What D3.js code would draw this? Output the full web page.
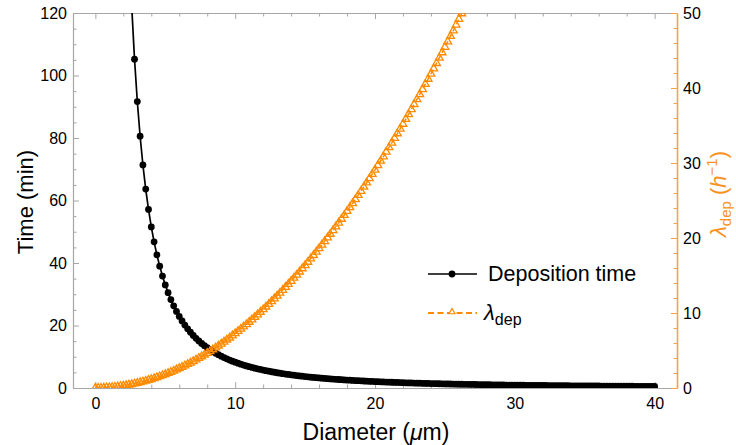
<!DOCTYPE html>
<html>
<head>
<meta charset="utf-8">
<script src="https://cdn.jsdelivr.net/npm/d3@7"></script>
<style>
  html, body { margin: 0; padding: 0; background: #fff; }
  svg { display: block; font-family: "Liberation Sans", Arial, sans-serif; }
</style>
</head>
<body>
<svg id="chart" width="736" height="445"></svg>
<script>
// Particle diameter grid (μm)
const diameter = [
  0,0.2,0.4,0.6,0.8,1,1.2,1.4,1.6,1.8,
  2,2.2,2.4,2.6,2.8,3,3.2,3.4,3.6,3.8,
  4,4.2,4.4,4.6,4.8,5,5.2,5.4,5.6,5.8,
  6,6.2,6.4,6.6,6.8,7,7.2,7.4,7.6,7.8,
  8,8.2,8.4,8.6,8.8,9,9.2,9.4,9.6,9.8,
  10,10.2,10.4,10.6,10.8,11,11.2,11.4,11.6,11.8,
  12,12.2,12.4,12.6,12.8,13,13.2,13.4,13.6,13.8,
  14,14.2,14.4,14.6,14.8,15,15.2,15.4,15.6,15.8,
  16,16.2,16.4,16.6,16.8,17,17.2,17.4,17.6,17.8,
  18,18.2,18.4,18.6,18.8,19,19.2,19.4,19.6,19.8,
  20,20.2,20.4,20.6,20.8,21,21.2,21.4,21.6,21.8,
  22,22.2,22.4,22.6,22.8,23,23.2,23.4,23.6,23.8,
  24,24.2,24.4,24.6,24.8,25,25.2,25.4,25.6,25.8,
  26,26.2,26.4,26.6,26.8,27,27.2,27.4,27.6,27.8,
  28,28.2,28.4,28.6,28.8,29,29.2,29.4,29.6,29.8,
  30,30.2,30.4,30.6,30.8,31,31.2,31.4,31.6,31.8,
  32,32.2,32.4,32.6,32.8,33,33.2,33.4,33.6,33.8,
  34,34.2,34.4,34.6,34.8,35,35.2,35.4,35.6,35.8,
  36,36.2,36.4,36.6,36.8,37,37.2,37.4,37.6,37.8,
  38,38.2,38.4,38.6,38.8,39,39.2,39.4,39.6,39.8,
  40
];

// Deposition time (min) for each diameter; the smallest sizes lie above the axis range
const depositionTime = [
  null,null,null,null,null,null,null,null,null,null,
  null,null,143.23,122.04,105.23,91.67,80.57,71.37,63.66,57.13,
  51.56,46.77,42.61,38.99,35.81,33,30.51,28.29,26.31,24.52,
  22.92,21.46,20.14,18.94,17.84,16.84,15.91,15.07,14.28,13.56,
  12.89,12.27,11.69,11.15,10.65,10.19,9.75,9.34,8.95,8.59,
  8.25,7.93,7.63,7.34,7.07,6.82,6.58,6.35,6.13,5.93,
  5.73,5.54,5.37,5.2,5.04,4.88,4.73,4.59,4.46,4.33,
  4.21,4.09,3.98,3.87,3.77,3.67,3.57,3.48,3.39,3.3,
  3.22,3.14,3.07,2.99,2.92,2.85,2.79,2.72,2.66,2.6,
  2.55,2.49,2.44,2.38,2.33,2.29,2.24,2.19,2.15,2.1,
  2.06,2.02,1.98,1.94,1.91,1.87,1.84,1.8,1.77,1.74,
  1.7,1.67,1.64,1.62,1.59,1.56,1.53,1.51,1.48,1.46,
  1.43,1.41,1.39,1.36,1.34,1.32,1.3,1.28,1.26,1.24,
  1.22,1.2,1.18,1.17,1.15,1.13,1.12,1.1,1.08,1.07,
  1.05,1.04,1.02,1.01,0.99,0.98,0.97,0.95,0.94,0.93,
  0.92,0.9,0.89,0.88,0.87,0.86,0.85,0.84,0.83,0.82,
  0.81,0.8,0.79,0.78,0.77,0.76,0.75,0.74,0.73,0.72,
  0.71,0.71,0.7,0.69,0.68,0.67,0.67,0.66,0.65,0.64,
  0.64,0.63,0.62,0.62,0.61,0.6,0.6,0.59,0.58,0.58,
  0.57,0.57,0.56,0.55,0.55,0.54,0.54,0.53,0.53,0.52,
  0.52
];

// Deposition rate λ_dep (1/h), listed from 0 μm up to where it leaves the axis range
const lambdaDep = [
  0,0,0.01,0.03,0.05,0.07,0.1,0.14,0.19,0.24,
  0.29,0.35,0.42,0.49,0.57,0.66,0.75,0.84,0.94,1.05,
  1.16,1.28,1.41,1.54,1.68,1.82,1.97,2.12,2.28,2.45,
  2.62,2.8,2.98,3.17,3.36,3.56,3.77,3.98,4.2,4.43,
  4.66,4.89,5.13,5.38,5.63,5.89,6.16,6.43,6.7,6.99,
  7.27,7.57,7.87,8.17,8.48,8.8,9.12,9.45,9.79,10.13,
  10.47,10.83,11.18,11.55,11.92,12.29,12.67,13.06,13.45,13.85,
  14.26,14.67,15.08,15.5,15.93,16.36,16.8,17.25,17.7,18.16,
  18.62,19.09,19.56,20.04,20.53,21.02,21.52,22.02,22.53,23.04,
  23.57,24.09,24.62,25.16,25.71,26.26,26.81,27.37,27.94,28.51,
  29.09,29.68,30.27,30.86,31.47,32.07,32.69,33.31,33.93,34.56,
  35.2,35.84,36.49,37.15,37.81,38.47,39.15,39.82,40.51,41.2,
  41.89,42.59,43.3,44.01,44.73,45.46,46.19,46.92,47.66,48.41,
  49.17,49.93,50.69
];

// Axis ticks
const xTicks = [0, 10, 20, 30, 40];
const xMinorTicks = [2, 4, 6, 8, 12, 14, 16, 18, 22, 24, 26, 28, 32, 34, 36, 38];
const timeTicks = [0, 20, 40, 60, 80, 100, 120];
const timeMinorTicks = [5, 10, 15, 25, 30, 35, 45, 50, 55, 65, 70, 75, 85, 90, 95, 105, 110, 115];
const lambdaTicks = [0, 10, 20, 30, 40, 50];
const lambdaMinorTicks = [2, 4, 6, 8, 12, 14, 16, 18, 22, 24, 26, 28, 32, 34, 36, 38, 42, 44, 46, 48];

const GRAY = "#a6a6a6";
const ORANGE = "#ff8a00";
const ORANGE_AXIS = "#f6a24a";
const ORANGE_TEXT = "#f7931e";

const plot = { left: 73, right: 677, top: 13, bottom: 388 };

const svg = d3.select("#chart");

const x = d3.scaleLinear().domain([-1.6, 41.6]).range([plot.left, plot.right]);
const yTime = d3.scaleLinear().domain([0, 120]).range([plot.bottom, plot.top]);
const yLambda = d3.scaleLinear().domain([0, 50]).range([plot.bottom, plot.top]);

svg.append("defs").append("clipPath").attr("id", "plot-clip")
  .append("rect")
  .attr("x", plot.left).attr("y", plot.top)
  .attr("width", plot.right - plot.left).attr("height", plot.bottom - plot.top);

function styleAxis(g, lineColor) {
  g.select(".domain").attr("stroke", lineColor).attr("stroke-width", 1.2);
  g.selectAll(".tick line").attr("stroke", lineColor).attr("stroke-width", 1);
  g.selectAll(".tick text").attr("fill", "#000").attr("font-size", 16)
    .attr("font-family", "Liberation Sans, Arial, sans-serif");
}

// Bottom axis
const gBottom = svg.append("g").attr("transform", `translate(0,${plot.bottom})`)
  .call(d3.axisBottom(x).tickValues(xTicks).tickSize(-6).tickSizeOuter(0).tickPadding(10));
styleAxis(gBottom, GRAY);
svg.append("g").attr("transform", `translate(0,${plot.bottom})`)
  .call(d3.axisBottom(x).tickValues(xMinorTicks).tickSize(-3.5).tickFormat(""))
  .call(g => { g.select(".domain").remove(); g.selectAll(".tick line").attr("stroke", GRAY); });

// Top frame
const gTop = svg.append("g").attr("transform", `translate(0,${plot.top})`)
  .call(d3.axisTop(x).tickValues(xTicks).tickSize(-6).tickSizeOuter(0).tickFormat(""));
styleAxis(gTop, GRAY);
svg.append("g").attr("transform", `translate(0,${plot.top})`)
  .call(d3.axisTop(x).tickValues(xMinorTicks).tickSize(-3.5).tickFormat(""))
  .call(g => { g.select(".domain").remove(); g.selectAll(".tick line").attr("stroke", GRAY); });

// Left axis: time
const gLeft = svg.append("g").attr("transform", `translate(${plot.left},0)`)
  .call(d3.axisLeft(yTime).tickValues(timeTicks).tickSize(-6).tickSizeOuter(0).tickPadding(6));
styleAxis(gLeft, GRAY);
svg.append("g").attr("transform", `translate(${plot.left},0)`)
  .call(d3.axisLeft(yTime).tickValues(timeMinorTicks).tickSize(-3.5).tickFormat(""))
  .call(g => { g.select(".domain").remove(); g.selectAll(".tick line").attr("stroke", GRAY); });

// Right axis: λ_dep
const gRight = svg.append("g").attr("transform", `translate(${plot.right},0)`)
  .call(d3.axisRight(yLambda).tickValues(lambdaTicks).tickSize(-6).tickSizeOuter(0).tickPadding(6));
styleAxis(gRight, ORANGE_AXIS);
gRight.select(".domain").attr("stroke-width", 1.6);
svg.append("g").attr("transform", `translate(${plot.right},0)`)
  .call(d3.axisRight(yLambda).tickValues(lambdaMinorTicks).tickSize(-3.5).tickFormat(""))
  .call(g => { g.select(".domain").remove(); g.selectAll(".tick line").attr("stroke", ORANGE_AXIS); });

// Series
const plotArea = svg.append("g").attr("clip-path", "url(#plot-clip)");

const timePoints = diameter.map((d, i) => ({ d, v: depositionTime[i] })).filter(p => p.v != null);
const lambdaPoints = lambdaDep.map((v, i) => ({ d: diameter[i], v }));

plotArea.append("path")
  .datum(timePoints)
  .attr("fill", "none").attr("stroke", "#000").attr("stroke-width", 1.7)
  .attr("d", d3.line().x(p => x(p.d)).y(p => yTime(p.v)));

plotArea.append("g").selectAll("circle")
  .data(timePoints).join("circle")
  .attr("cx", p => x(p.d)).attr("cy", p => yTime(p.v)).attr("r", 3.4)
  .attr("fill", "#000");

plotArea.append("path")
  .datum(lambdaPoints)
  .attr("fill", "none").attr("stroke", ORANGE).attr("stroke-width", 1.5)
  .attr("stroke-dasharray", "5,3")
  .attr("d", d3.line().x(p => x(p.d)).y(p => yLambda(p.v)));

const tri = d3.symbol().type(d3.symbolTriangle).size(26);
plotArea.append("g").selectAll("path")
  .data(lambdaPoints).join("path")
  .attr("transform", p => `translate(${x(p.d)},${yLambda(p.v)})`)
  .attr("d", tri)
  .attr("fill", "none").attr("stroke", ORANGE).attr("stroke-width", 1.3);

// Axis titles
svg.append("text")
  .attr("x", 376).attr("y", 440)
  .attr("text-anchor", "middle").attr("font-size", 23).attr("fill", "#000")
  .call(t => {
    t.append("tspan").text("Diameter (");
    t.append("tspan").attr("font-style", "italic").text("μ");
    t.append("tspan").text("m)");
  });

svg.append("text")
  .attr("transform", "translate(33,202) rotate(-90)")
  .attr("text-anchor", "middle").attr("font-size", 22).attr("fill", "#000")
  .text("Time (min)");

svg.append("text")
  .attr("transform", "translate(726,194) rotate(-90)")
  .attr("text-anchor", "middle").attr("font-size", 22).attr("fill", ORANGE_TEXT)
  .call(t => {
    t.append("tspan").attr("font-style", "italic").text("λ");
    t.append("tspan").attr("font-size", 15).attr("dy", 5).text("dep");
    t.append("tspan").attr("dy", -5).text(" (");
    t.append("tspan").attr("font-style", "italic").text("h");
    t.append("tspan").attr("font-size", 15).attr("dy", -9).text("−1");
    t.append("tspan").attr("dy", 9).text(")");
  });

// Legend
const legend = svg.append("g");
legend.append("line")
  .attr("x1", 428).attr("x2", 477).attr("y1", 274).attr("y2", 274)
  .attr("stroke", "#000").attr("stroke-width", 1.7);
legend.append("circle").attr("cx", 452).attr("cy", 274).attr("r", 3.4).attr("fill", "#000");
legend.append("text").attr("x", 488).attr("y", 281)
  .attr("font-size", 21.5).attr("fill", "#000").text("Deposition time");

legend.append("line")
  .attr("x1", 428).attr("x2", 477).attr("y1", 313).attr("y2", 313)
  .attr("stroke", ORANGE).attr("stroke-width", 1.8).attr("stroke-dasharray", "6,3.5");
legend.append("path")
  .attr("transform", "translate(452,312)")
  .attr("d", d3.symbol().type(d3.symbolTriangle).size(16))
  .attr("fill", "#fff").attr("stroke", ORANGE).attr("stroke-width", 1.2);
legend.append("text").attr("x", 484).attr("y", 320)
  .attr("font-size", 22).attr("fill", "#000")
  .call(t => {
    t.append("tspan").attr("font-style", "italic").text("λ");
    t.append("tspan").attr("font-size", 16).attr("dy", 5).text("dep");
  });
</script>
</body>
</html>
